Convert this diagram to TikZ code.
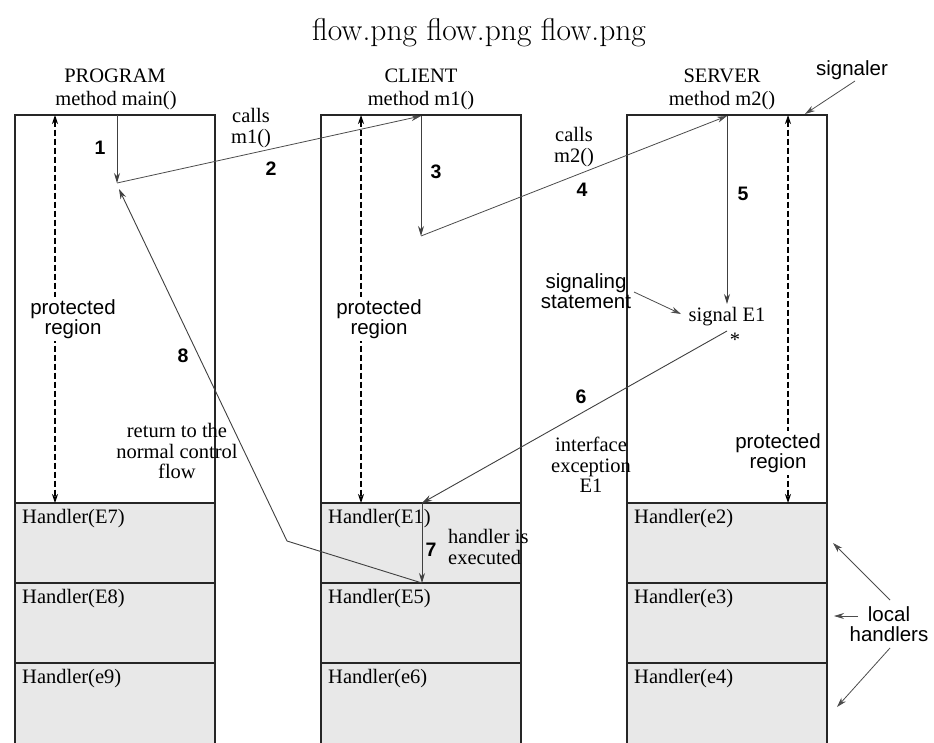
\documentclass[tikz,border=0pt]{standalone}
\usepackage{fontspec}
\newfontfamily\srf{Liberation Serif}
\newfontfamily\sns{Liberation Sans}
\usetikzlibrary{arrows.meta}
\tikzset{
 box/.style={draw=black!85, line width=1.2pt},
 hbox/.style={draw=black!85, line width=1.2pt, fill=black!9},
 serif/.style={font=\srf\fontsize{20.5}{20.5}\selectfont, inner sep=1pt},
 sans/.style={font=\sns\fontsize{20.5}{20.5}\selectfont, inner sep=1pt},
 num/.style={font=\sns\bfseries\fontsize{19.5}{20}\selectfont, inner sep=1pt},
 flow/.style={draw=black!75, line width=0.9pt, -{Stealth[length=10pt,width=6pt]}},
 thin/.style={draw=black!70, line width=0.8pt, -{Stealth[length=10pt,width=6pt]}},
 prot/.style={draw=black, line width=1.1pt, dash pattern=on 6pt off 3pt, {Stealth[length=9pt,width=6pt]}-{Stealth[length=9pt,width=6pt]}},
 prottext/.style={sans, fill=white, align=center, inner sep=2pt},
}
\begin{document}
\begin{tikzpicture}[x=1pt,y=-1pt]
\useasboundingbox (0,0) rectangle (934,742);
% title
\node (title) at (479,33) {\fontsize{31.5}{34}\selectfont flow.png flow.png flow.png};
% columns
\foreach \n/\x in {prog/15, cli/321, srv/627}{
  \draw[box, fill=white] (\x,115) rectangle ++(200,388);
  \draw[hbox] (\x,503) rectangle ++(200,80);
  \draw[hbox] (\x,583) rectangle ++(200,80);
  \draw[hbox] (\x,663) rectangle ++(200,90);
}
% headers
\node[serif] (hprog) at (115,76) {PROGRAM};
\node[serif] (mprog) at (116,101) {method main()};
\node[serif] (hcli) at (421,76) {CLIENT};
\node[serif] (mcli) at (421,101) {method m1()};
\node[serif] (hsrv) at (722,76) {SERVER};
\node[serif] (msrv) at (722,101) {method m2()};
% handlers
\node[serif, anchor=west] (h7) at (21,519) {Handler(E7)};
\node[serif, anchor=west] (h8) at (21,599) {Handler(E8)};
\node[serif, anchor=west] (h9) at (21,679) {Handler(e9)};
\node[serif, anchor=west] (h1) at (327,519) {Handler(E1)};
\node[serif, anchor=west] (h5) at (327,599) {Handler(E5)};
\node[serif, anchor=west] (h6) at (327,679) {Handler(e6)};
\node[serif, anchor=west] (h2) at (633,519) {Handler(e2)};
\node[serif, anchor=west] (h3) at (633,599) {Handler(e3)};
\node[serif, anchor=west] (h4) at (633,679) {Handler(e4)};
% protected regions
\coordinate (pa1) at (55,115); \coordinate (pa2) at (55,503);
\coordinate (pb1) at (361,115); \coordinate (pb2) at (361,503);
\coordinate (pc1) at (788,115); \coordinate (pc2) at (788,503);
\draw[prot] (pa1) -- (pa2);
\draw[prot] (pb1) -- (pb2);
\draw[prot] (pc1) -- (pc2);
\node[prottext] (pra) at (73,319) {protected\\region};
\node[prottext] (prb) at (379,319) {protected\\region};
\node[prottext] (prc) at (778,453) {protected\\region};
% flow coordinates
\coordinate (c0) at (117,115);
\coordinate (c1) at (117,183);
\coordinate (c2) at (421,116);
\coordinate (c3) at (421,236);
\coordinate (c4) at (727,116);
\coordinate (c5) at (727,304);
\coordinate (c6) at (727,331);
\coordinate (c7) at (422,503);
\coordinate (c8) at (422,583);
\coordinate (c9) at (287,541);
\coordinate (c10) at (119,189);
\draw[flow] (c0) -- (c1);
\draw[thin] (c1) -- (c2);
\draw[flow] (c2) -- (c3);
\draw[thin] (c3) -- (c4);
\draw[flow] (c4) -- (c5);
\draw[flow] (c6) -- (c7);
\draw[flow] (c7) -- (c8);
\draw[flow] (c8) -- (c9) -- (c10);
% numbers
\node[num] (n1) at (100,148) {1};
\node[num] (n2) at (271,169) {2};
\node[num] (n3) at (436,172) {3};
\node[num] (n4) at (582,190) {4};
\node[num] (n5) at (743,194) {5};
\node[num] (n6) at (581,397) {6};
\node[num] (n7) at (431,550) {7};
\node[num] (n8) at (183,356) {8};
% labels
\node[serif, align=center] (calls1) at (251,128) {calls\\m1()};
\node[serif, align=center] (calls2) at (574,147) {calls\\m2()};
\node[serif] (sig) at (727,317) {signal E1};
\node[serif] (star) at (735,340) {*};
\node[sans, align=center] (sigst) at (586,291) {signaling\\statement};
\node[serif, align=center] (iface) at (591,465) {interface\\exception\\E1};
\node[serif, align=center] (ret) at (177,451) {return to the\\normal control\\flow};
\node[serif, align=left, anchor=west] (hexec) at (447,547) {handler is\\executed};
\node[sans] (signaler) at (852,70) {signaler};
\node[sans, align=center] (local) at (889,624) {local\\handlers};
% small arrows
\coordinate (s1) at (634,292); \coordinate (s2) at (681,314);
\draw[thin] (s1) -- (s2);
\coordinate (g1) at (855,81); \coordinate (g2) at (805,114);
\draw[thin] (g1) -- (g2);
\coordinate (l1) at (890,600); \coordinate (l2) at (833,543);
\coordinate (l3) at (858,616); \coordinate (l4) at (834,616);
\coordinate (l5) at (890,648); \coordinate (l6) at (837,707);
\draw[thin] (l1) -- (l2);
\draw[thin] (l3) -- (l4);
\draw[thin] (l5) -- (l6);
\end{tikzpicture}
\end{document}
